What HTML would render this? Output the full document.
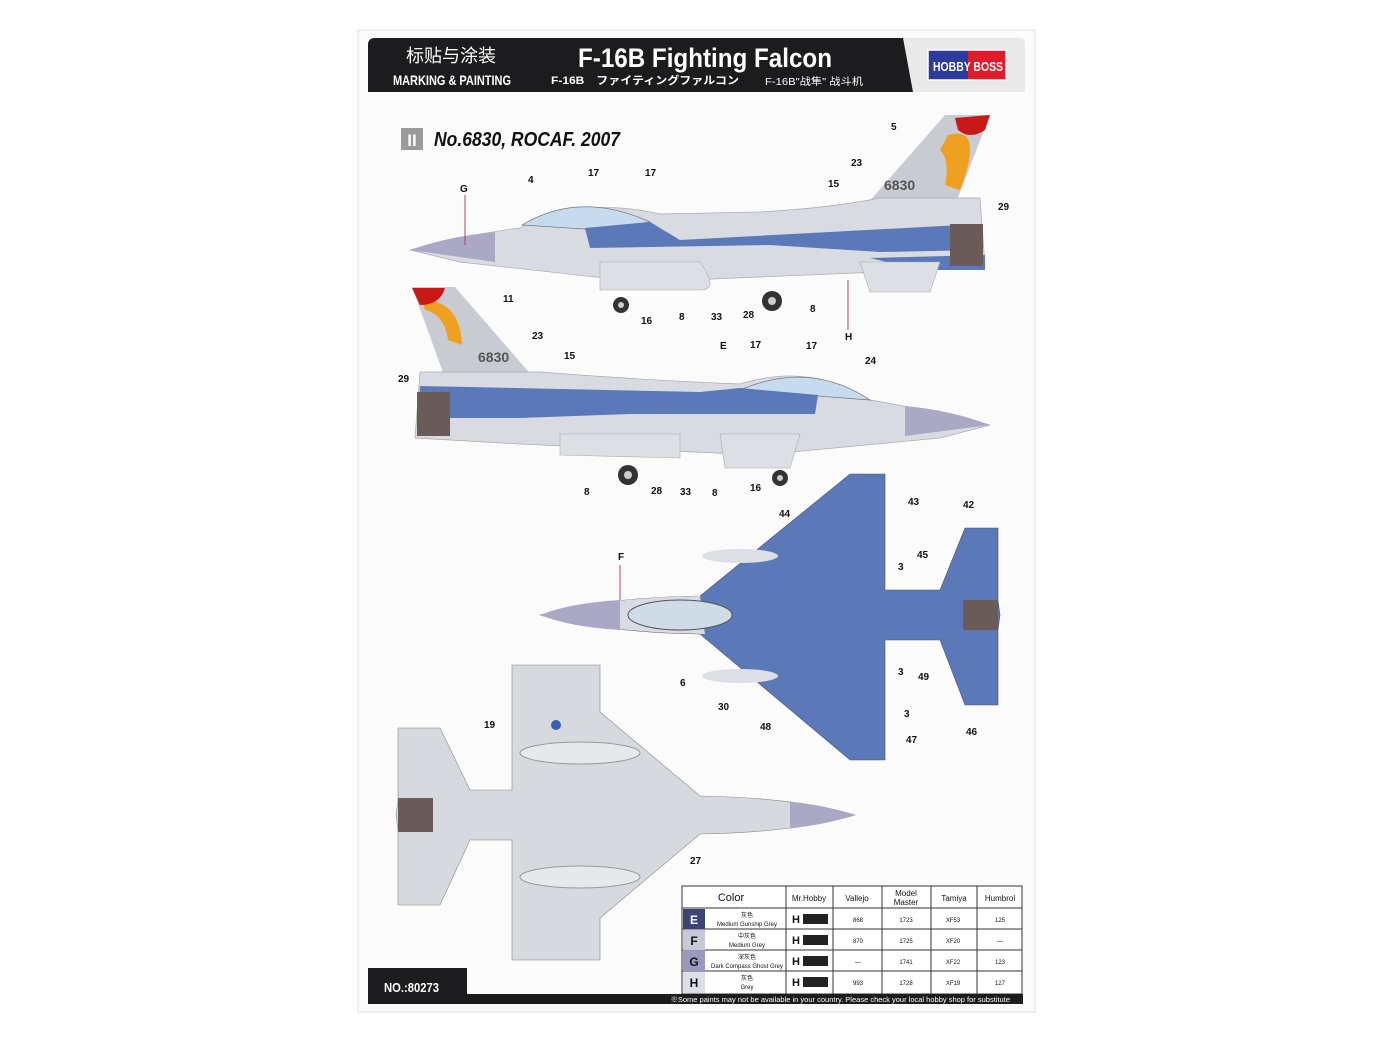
<!DOCTYPE html>
<html><head><meta charset="utf-8"><style>
body{margin:0;background:#fff;}
svg{display:block}
text{font-family:"Liberation Sans","Noto Sans CJK SC",sans-serif}
</style></head><body>
<svg width="1391" height="1044" viewBox="0 0 1391 1044" xmlns="http://www.w3.org/2000/svg">
<rect width="1391" height="1044" fill="#fff"/>
<rect x="358" y="30" width="677" height="982" fill="#fbfbfb" stroke="#e2e2e2"/>
<!-- header -->
<path d="M375,38 H913 V92 H368 V45 Q368,38 375,38Z" fill="#1c1c1e"/>
<path d="M903,38 H1020 Q1025,38 1025,44 V92 H913Z" fill="#e9e9ea"/>
<text x="451" y="62" fill="#fff" font-size="18" text-anchor="middle" font-family="Noto Sans CJK SC,sans-serif">标贴与涂装</text>
<text x="393" y="85" fill="#fff" font-size="14" font-weight="bold" textLength="118" lengthAdjust="spacingAndGlyphs">MARKING &amp; PAINTING</text>
<text x="578" y="67" fill="#fff" font-size="27" font-weight="bold" font-family="Liberation Serif,serif" textLength="254" lengthAdjust="spacingAndGlyphs">F-16B Fighting Falcon</text>
<text x="551" y="84" fill="#fff" font-size="11" font-weight="bold" font-family="Liberation Serif,'Noto Sans CJK JP',serif" textLength="188" lengthAdjust="spacingAndGlyphs">F-16B　ファイティングファルコン</text>
<text x="765" y="85" fill="#fff" font-size="10" font-family="Liberation Sans,'Noto Sans CJK SC',sans-serif" textLength="98" lengthAdjust="spacingAndGlyphs">F-16B"战隼" 战斗机</text>
<rect x="928" y="50" width="40" height="30" fill="#2d3b9c"/>
<rect x="968" y="50" width="38" height="30" fill="#e21b2a"/>
<rect x="928" y="50" width="78" height="30" fill="none" stroke="#fff" stroke-width="1.5"/>
<text x="933" y="71" fill="#fff" font-size="13" font-weight="bold" textLength="70" lengthAdjust="spacingAndGlyphs">HOBBY BOSS</text>
<!-- title -->
<rect x="401" y="128" width="22" height="22" fill="#9a9a9a"/>
<text x="412" y="146" fill="#fff" font-size="17" font-weight="bold" text-anchor="middle">II</text>
<text x="434" y="146" fill="#111" font-size="20" font-style="italic" font-weight="bold" textLength="186" lengthAdjust="spacingAndGlyphs">No.6830, ROCAF. 2007</text>

<g font-size="10" fill="#111" font-weight="bold">
<!-- side view 1 -->
<path d="M860,212 L945,115 L990,115 L955,205Z" fill="#c8ccd2"/>
<path d="M948,135 Q985,125 960,190 L945,185 Q950,160 940,150Z" fill="#f0a020"/>
<path d="M955,118 L990,115 L985,130 Q970,140 958,130Z" fill="#c81818"/>
<text x="884" y="190" font-size="14" fill="#555">6830</text>
<path d="M410,250 Q470,234 520,228 Q580,196 660,214 L760,212 Q830,208 880,198 L980,198 L985,265 L880,272 L640,282 L460,262Z" fill="#d8dce2" stroke="#aaa" stroke-width="0.7"/>
<path d="M410,250 Q450,236 495,232 L495,262 Z" fill="#aaa8c4"/>
<path d="M522,225 Q580,190 650,222 L600,230Z" fill="#c6dcee" stroke="#777" stroke-width="0.7"/>
<path d="M585,228 L650,222 L680,240 L980,224 L982,250 L880,252 L770,245 L590,248Z" fill="#5b78b8"/>
<path d="M870,258 L985,255 L985,270 L920,270Z" fill="#5b78b8"/>
<rect x="950" y="224" width="33" height="42" fill="#6a5a58"/>
<path d="M600,262 L700,262 Q720,290 700,290 L600,290Z" fill="#dcdfe4" stroke="#aaa" stroke-width="0.6"/>
<path d="M860,262 L940,262 L930,292 L870,292Z" fill="#dcdfe4" stroke="#aaa" stroke-width="0.6"/>
<circle cx="621" cy="305" r="8" fill="#333"/><circle cx="772" cy="301" r="10" fill="#333"/>
<circle cx="621" cy="305" r="3" fill="#ccc"/><circle cx="772" cy="301" r="4" fill="#ccc"/>
<line x1="465" y1="195" x2="465" y2="245" stroke="#b04070"/><text x="460" y="192">G</text>
<text x="528" y="183">4</text><text x="588" y="176">17</text><text x="645" y="176">17</text>
<text x="891" y="130">5</text><text x="851" y="166">23</text><text x="828" y="187">15</text><text x="998" y="210">29</text>
<text x="641" y="324">16</text><text x="679" y="320">8</text><text x="711" y="320">33</text><text x="743" y="318">28</text><text x="810" y="312">8</text><text x="845" y="340">H</text>
<line x1="848" y1="280" x2="848" y2="330" stroke="#b04070"/>
<!-- side view 2 -->
<path d="M540,385 L455,287 L412,287 L445,378Z" fill="#c8ccd2"/>
<path d="M422,300 Q460,300 462,345 L448,340 Q445,315 425,310Z" fill="#f0a020"/>
<path d="M412,288 L445,288 Q440,305 420,305Z" fill="#c81818"/>
<text x="478" y="362" font-size="14" fill="#555">6830</text>
<path d="M990,425 Q930,410 870,400 Q810,362 740,384 Q640,380 540,372 L420,372 L415,438 L520,444 L760,455 L940,438Z" fill="#d8dce2" stroke="#aaa" stroke-width="0.7"/>
<path d="M990,425 Q950,410 905,406 L905,436Z" fill="#aaa8c4"/>
<path d="M870,400 Q810,360 740,390Z" fill="#c6dcee" stroke="#777" stroke-width="0.7"/>
<path d="M818,395 L740,388 L700,392 L420,386 L418,418 L520,418 L630,414 L815,414Z" fill="#5b78b8"/>
<rect x="417" y="392" width="33" height="44" fill="#6a5a58"/>
<path d="M560,434 L680,434 L680,458 L560,455Z" fill="#dcdfe4" stroke="#aaa" stroke-width="0.6"/>
<path d="M720,434 L800,434 L790,468 L725,468Z" fill="#dcdfe4" stroke="#aaa" stroke-width="0.6"/>
<circle cx="628" cy="475" r="10" fill="#333"/><circle cx="780" cy="478" r="8" fill="#333"/>
<circle cx="628" cy="475" r="4" fill="#ccc"/><circle cx="780" cy="478" r="3" fill="#ccc"/>
<text x="503" y="302">11</text><text x="532" y="339">23</text><text x="564" y="359">15</text><text x="398" y="382">29</text>
<text x="720" y="349">E</text><text x="750" y="348">17</text><text x="806" y="349">17</text><text x="865" y="364">24</text>
<text x="584" y="495">8</text><text x="651" y="494">28</text><text x="680" y="495">33</text><text x="712" y="496">8</text><text x="750" y="491">16</text>
<!-- top view -->
<path d="M540,615 Q600,598 700,596 L850,474 L885,474 L885,590 L940,590 L965,528 L998,528 L998,600 L1000,615 L998,630 L998,705 L965,705 L940,640 L885,640 L885,760 L850,760 L700,634 Q600,632 540,615Z" fill="#5b78b8" stroke="#556" stroke-width="0.6"/>
<path d="M540,615 Q600,598 700,596 L705,634 Q600,632 540,615Z" fill="#d8dce2"/>
<path d="M540,615 Q570,603 620,600 L620,630 Q570,627 540,615Z" fill="#aaa8c4"/>
<ellipse cx="680" cy="615" rx="52" ry="15" fill="#d0dbe8" stroke="#555"/>
<rect x="963" y="600" width="35" height="30" fill="#6a5a58"/>
<ellipse cx="740" cy="556" rx="38" ry="7" fill="#dcdfe4"/><ellipse cx="740" cy="676" rx="38" ry="7" fill="#dcdfe4"/>
<text x="618" y="560">F</text><line x1="620" y1="565" x2="620" y2="600" stroke="#b04070"/>
<text x="908" y="505">43</text><text x="963" y="508">42</text><text x="779" y="517">44</text><text x="917" y="558">45</text><text x="898" y="570">3</text>
<text x="898" y="675">3</text><text x="918" y="680">49</text><text x="680" y="686">6</text><text x="718" y="710">30</text><text x="760" y="730">48</text><text x="904" y="717">3</text><text x="906" y="743">47</text><text x="966" y="735">46</text>
<!-- bottom view -->
<path d="M855,815 Q800,798 700,796 L600,712 L600,665 L512,665 L512,790 L470,790 L440,728 L398,728 L398,800 L396,815 L398,830 L398,905 L440,905 L470,840 L512,840 L512,960 L600,960 L600,918 L700,834 Q800,832 855,815Z" fill="#d6dade" stroke="#888" stroke-width="0.6"/>
<path d="M855,815 Q820,804 790,802 L790,828 Q820,826 855,815Z" fill="#aaa8c4"/>
<rect x="398" y="798" width="35" height="34" fill="#6a5a58"/>
<ellipse cx="580" cy="753" rx="60" ry="11" fill="#e6e8ec" stroke="#999"/><ellipse cx="580" cy="877" rx="60" ry="11" fill="#e6e8ec" stroke="#999"/>
<circle cx="556" cy="725" r="5" fill="#3a5fb0"/>
<text x="484" y="728">19</text><text x="690" y="864">27</text>
</g>
<!-- table -->
<g font-size="8" fill="#111" text-anchor="middle">
<rect x="682" y="886" width="340" height="108" fill="#fff" stroke="#333"/>
<line x1="682" y1="908" x2="1022" y2="908" stroke="#333"/>
<line x1="682" y1="929" x2="1022" y2="929" stroke="#333"/>
<line x1="682" y1="950" x2="1022" y2="950" stroke="#333"/>
<line x1="682" y1="971" x2="1022" y2="971" stroke="#333"/>
<g stroke="#333"><line x1="786" y1="886" x2="786" y2="994"/><line x1="833" y1="886" x2="833" y2="994"/><line x1="882" y1="886" x2="882" y2="994"/><line x1="931" y1="886" x2="931" y2="994"/><line x1="977" y1="886" x2="977" y2="994"/></g>
<rect x="683" y="909" width="22" height="20" fill="#3c4476"/><rect x="683" y="930" width="22" height="20" fill="#c6cad8"/><rect x="683" y="951" width="22" height="20" fill="#9a98c0"/><rect x="683" y="972" width="22" height="21" fill="#dcdee8"/>
<text x="731" y="901" font-size="11">Color</text><text x="809" y="901">Mr.Hobby</text><text x="857" y="901">Vallejo</text><text x="906" y="896">Model</text><text x="906" y="905">Master</text><text x="954" y="901">Tamiya</text><text x="1000" y="901">Humbrol</text>
<g font-weight="bold" font-size="12"><text x="694" y="924" fill="#fff">E</text><text x="694" y="945">F</text><text x="694" y="966">G</text><text x="694" y="987">H</text></g>
<g font-size="6"><text x="747" y="917">灰色</text><text x="747" y="926">Medium Gunship Grey</text><text x="747" y="938">中灰色</text><text x="747" y="947">Medium Grey</text><text x="747" y="959">深灰色</text><text x="747" y="968">Dark Compass Ghost Grey</text><text x="747" y="980">灰色</text><text x="747" y="989">Grey</text></g>
<g font-size="6"><text x="858" y="922">868</text><text x="906" y="922">1723</text><text x="953" y="922">XF53</text><text x="1000" y="922">125</text>
<text x="858" y="943">870</text><text x="906" y="943">1725</text><text x="953" y="943">XF20</text><text x="1000" y="943">—</text>
<text x="858" y="964">—</text><text x="906" y="964">1741</text><text x="953" y="964">XF22</text><text x="1000" y="964">123</text>
<text x="858" y="985">993</text><text x="906" y="985">1728</text><text x="953" y="985">XF19</text><text x="1000" y="985">127</text></g>
<g font-weight="bold"><text x="796" y="923" font-size="11">H</text><text x="796" y="944" font-size="11">H</text><text x="796" y="965" font-size="11">H</text><text x="796" y="986" font-size="11">H</text></g>
<rect x="803" y="914" width="25" height="10" fill="#222"/><rect x="803" y="935" width="25" height="10" fill="#222"/><rect x="803" y="956" width="25" height="10" fill="#222"/><rect x="803" y="977" width="25" height="10" fill="#222"/>
</g>
<!-- footer -->
<rect x="368" y="994" width="655" height="10" fill="#1c1c1e"/>
<path d="M368,968 H467 V1004 H368Z" fill="#1c1c1e"/>
<text x="384" y="992" fill="#fff" font-size="13" font-weight="bold" textLength="55" lengthAdjust="spacingAndGlyphs">NO.:80273</text>
<text x="1010" y="1002" fill="#fff" font-size="7.5" text-anchor="end">※Some paints may not be available in your country. Please check your local hobby shop for substitute</text>
</svg>
</body></html>
